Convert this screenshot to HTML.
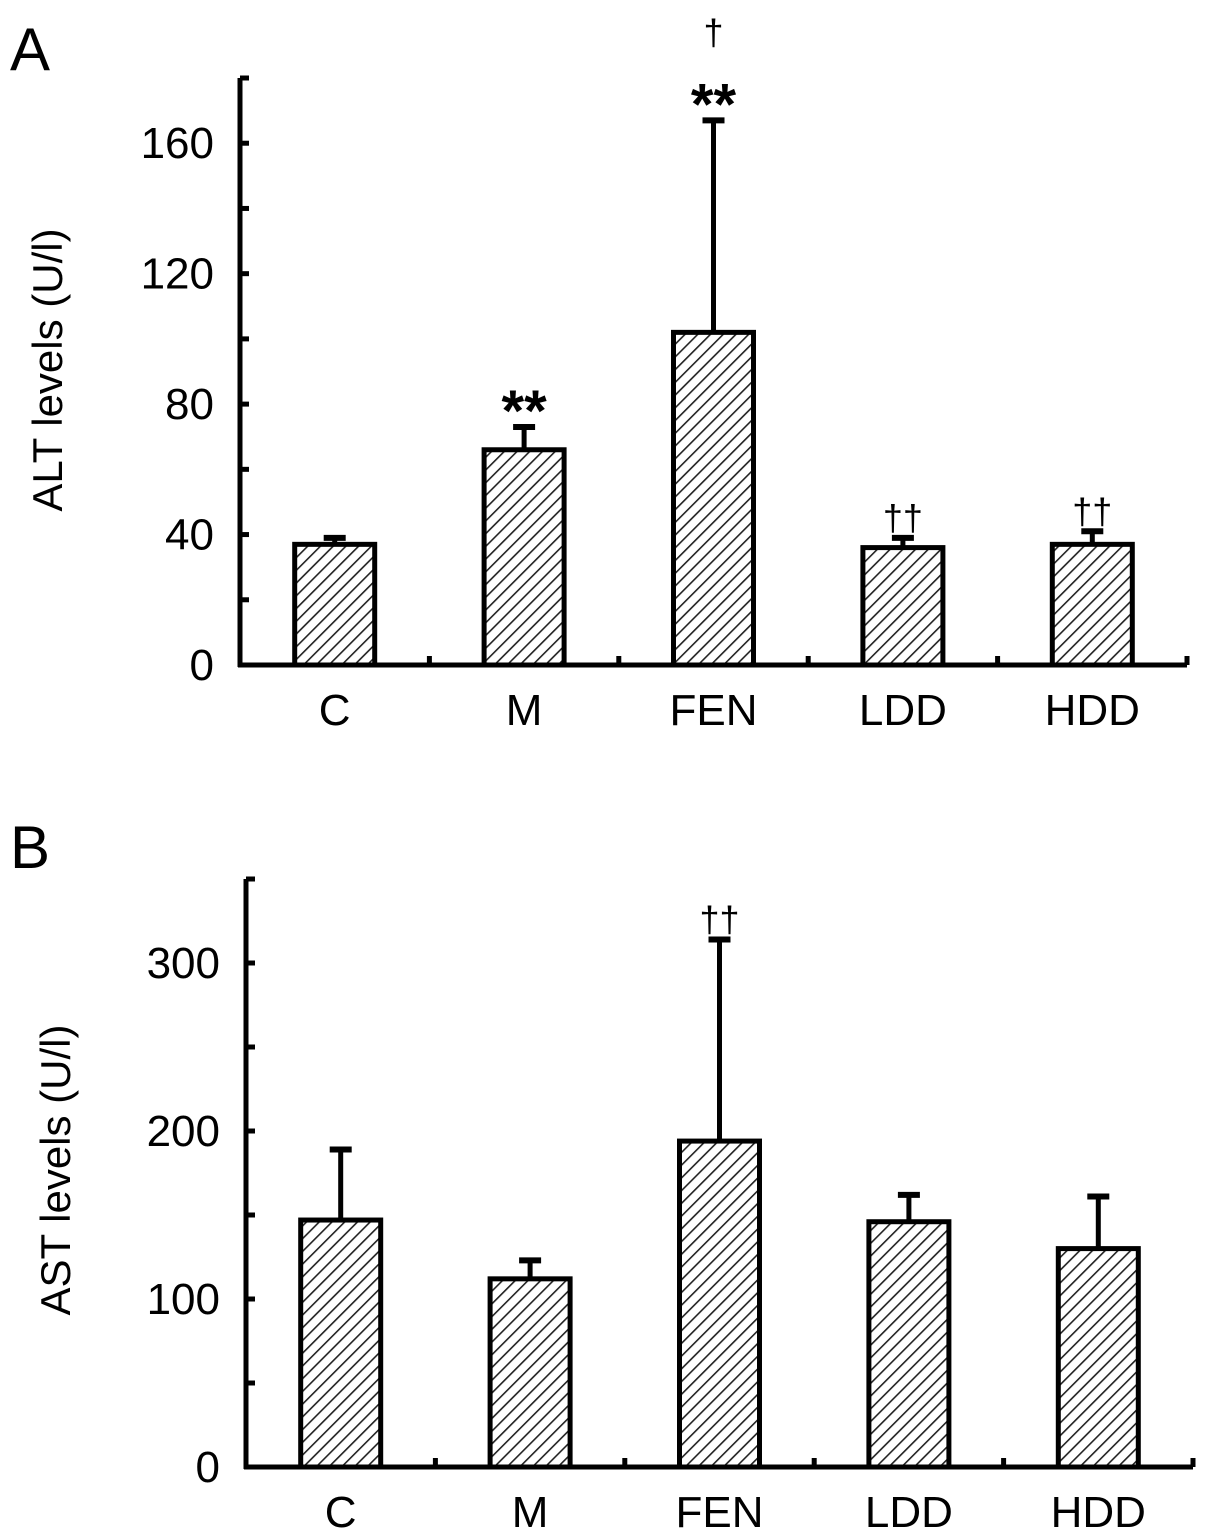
<!DOCTYPE html>
<html><head><meta charset="utf-8"><style>
html,body{margin:0;padding:0;background:#fff}
svg{display:block;font-family:"Liberation Sans",Arial,sans-serif}
</style></head><body>
<svg id="fig" width="1205" height="1540" viewBox="0 0 1205 1540">
<defs>
<pattern id="hatch" patternUnits="userSpaceOnUse" width="9" height="9" patternTransform="rotate(45)">
<rect width="9" height="9" fill="#fff"/>
<line x1="0" y1="0" x2="0" y2="9" stroke="#222" stroke-width="3.2"/>
</pattern>
</defs>
<text x="10" y="70" font-size="60">A</text>
<text x="10" y="868" font-size="60">B</text>
<text transform="translate(62,370) rotate(-90)" font-size="42" text-anchor="middle">ALT levels (U/l)</text>
<text transform="translate(70,1170) rotate(-90)" font-size="42" text-anchor="middle">AST levels (U/l)</text>
<g id="pa"></g>
<g id="pb"></g>
</svg>
<script>
const categories = ["C","M","FEN","LDD","HDD"];
const altValues = [37, 66, 102, 36, 37];
const altErrors = [2, 7, 65, 3, 4];
const altMarks = ["", "**", "**", "††", "††"];
const altDagger = ["", "", "†", "", ""];
const altTicks = [0, 40, 80, 120, 160];
const astValues = [147, 112, 194, 146, 130];
const astErrors = [42, 11, 120, 16, 31];
const astMarks = ["", "", "††", "", ""];
const astTicks = [0, 100, 200, 300];

const NS = "http://www.w3.org/2000/svg";
function mk(tag, attrs, parent, text) {
  const e = document.createElementNS(NS, tag);
  for (const k in attrs) e.setAttribute(k, attrs[k]);
  if (text !== undefined) e.textContent = text;
  parent.appendChild(e);
  return e;
}

function drawPanel(g, cfg) {
  const yS = v => cfg.y0 - (v / cfg.max) * (cfg.y0 - cfg.yTop);
  const step = (cfg.xEnd - cfg.x0) / categories.length;
  const xC = i => cfg.x0 + step * (i + 0.5);
  const ya = mk("line", {x1: cfg.x0, y1: cfg.yTop, x2: cfg.x0, y2: cfg.y0 + 2, stroke: "#000", "stroke-width": 5}, g);
  
  
  const xa = mk("line", {x1: cfg.x0 - 2, y1: cfg.y0, x2: cfg.xEnd, y2: cfg.y0, stroke: "#000", "stroke-width": 5}, g);
  
  
  for (let v = 0; v <= cfg.max + 1e-9; v += cfg.minor) {
    const t = mk("line", {x1: cfg.x0, y1: yS(v), x2: cfg.x0 + 9, y2: yS(v), stroke: "#000", "stroke-width": 5}, g);
    
    
  }
  cfg.ticks.forEach(v => {
    const t = mk("text", {x: cfg.x0 - 26, y: yS(v) + 15, "font-size": 44, "text-anchor": "end"}, g, String(v));
    
    
  });
  for (let i = 1; i <= categories.length; i++) {
    const x = cfg.x0 + step * i;
    const t = mk("line", {x1: x, y1: cfg.y0, x2: x, y2: cfg.y0 - 9, stroke: "#000", "stroke-width": 5}, g);
    
    
  }
  categories.forEach((c, i) => {
    const cx = xC(i);
    const top = yS(cfg.values[i]);
    const et = yS(cfg.values[i] + cfg.errors[i]);
    const el = mk("line", {x1: cx, y1: top, x2: cx, y2: et, stroke: "#000", "stroke-width": 5}, g);
    
    
    const cap = mk("line", {x1: cx - 11, y1: et, x2: cx + 11, y2: et, stroke: "#000", "stroke-width": 6}, g);
    
    
    const b = mk("rect", {x: cx - 40, y: top, width: 80, height: cfg.y0 - top, fill: "url(#hatch)", stroke: "#000", "stroke-width": 5}, g);
    
    
    const lab = mk("text", {x: cx, y: cfg.y0 + 60, "font-size": 44, "text-anchor": "middle"}, g, c);
    
    
    if (cfg.marks[i]) {
      const star = cfg.marks[i] === "**";
      const m = mk("text", {x: cx, y: star ? et + 4 : et - 8, "font-size": star ? 58 : 36, "font-weight": star ? "bold" : "normal", "text-anchor": "middle"}, g, cfg.marks[i]);
      
      
    }
    if (cfg.daggers && cfg.daggers[i]) {
      const d = mk("text", {x: cx, y: et - 76, "font-size": 36, "text-anchor": "middle"}, g, cfg.daggers[i]);
      
      
    }
  });
}
drawPanel(document.getElementById("pa"), {p: "alt", x0: 240, xEnd: 1187, y0: 665, yTop: 78, max: 180, minor: 20,
  ticks: altTicks, values: altValues, errors: altErrors, marks: altMarks, daggers: altDagger});
drawPanel(document.getElementById("pb"), {p: "ast", x0: 246, xEnd: 1193, y0: 1467, yTop: 879, max: 350, minor: 50,
  ticks: astTicks, values: astValues, errors: astErrors, marks: astMarks});
</script>
</body></html>
